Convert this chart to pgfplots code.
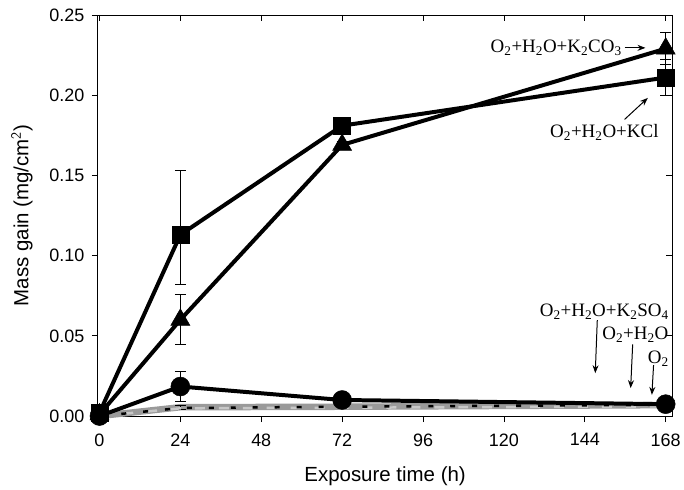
\documentclass[border=0pt]{standalone}
\usepackage{fontspec}
\setmainfont{Liberation Sans}
\newfontfamily\timesfont{Liberation Serif}
\usepackage{pgfplots}
\pgfplotsset{compat=1.18}
\usetikzlibrary{arrows.meta}

\definecolor{grayA}{HTML}{9A9A9A}
\definecolor{grayB}{HTML}{C8C8C8}

\newcommand{\lbl}[1]{{\timesfont\fontsize{19bp}{21bp}\selectfont #1}}

\begin{document}
\begin{tikzpicture}
\pgfplotsset{
  base/.style={
    width=576bp, height=402bp, scale only axis,
    at={(0,0)}, anchor=south west,
    xmin=-0.5, xmax=170, ymin=0, ymax=0.25,
    xtick={0,24,48,72,96,120,144,168},
    ytick={0,0.05,0.10,0.15,0.20,0.25},
    major tick length=6bp,
    every tick/.style={black, line width=0.8bp},
    axis line style={line width=0.8bp},
    clip=false,
  }
}
% inward ticks on top and right
\begin{axis}[base,
  xtick pos=right, ytick pos=right, tick align=inside,
  xticklabels={}, yticklabels={}]
\end{axis}

\begin{axis}[base,
  xtick pos=left, ytick pos=left, tick align=outside,
  /pgf/number format/assume math mode=true,
  yticklabel style={/pgf/number format/fixed, /pgf/number format/fixed zerofill,
    /pgf/number format/precision=2},
  scaled y ticks=false,
  tick label style={font=\fontsize{18bp}{20bp}\selectfont},
  xticklabel style={yshift=-8bp},
  yticklabel style={xshift=-4bp},
  label style={font=\fontsize{20.5bp}{23bp}\selectfont},
  xlabel={Exposure time (h)},
  ylabel={Mass gain (mg/cm$^{\mathsf{2}}$)},
  xlabel style={at={(axis description cs:0.5,-0.149)}, anchor=center},
  ylabel style={at={(axis description cs:-0.132,0.5)}, anchor=center},
  error bars/y dir=both,
  error bars/y explicit,
  error bars/error bar style={black, line width=0.9bp},
  error bars/error mark options={rotate=90, mark size=5.5bp, line width=0.9bp, black},
]
% low gray series
\addplot[grayA, line width=6.5bp, mark=none] coordinates {
  (0,0.000) (24,0.0055) +- (0,0.0012) (72,0.0058) (168,0.0068)
};
\addplot[grayB, line width=2.5bp, dash pattern=on 10bp off 14bp, mark=none] coordinates {
  (0,0.000) (24,0.0048) (72,0.0052) (168,0.0060)
};
\addplot[black, line width=2.5bp, dash pattern=on 5bp off 17bp, mark=none] coordinates {
  (0,0.000) (24,0.0050) (72,0.0058) (168,0.0070)
};
% circles
\addplot[black, line width=4bp, mark=*, mark size=9.5bp, mark options={solid, fill=black, line width=0.5bp}] coordinates {
  (0,0.000) (24,0.0184) +- (0,0.0095) (72,0.0100) +- (0,0.002) (168,0.0074) +- (0,0.002)
};
% triangles
\addplot[black, line width=4bp, mark=triangle*, mark size=11bp, mark options={solid, fill=black, line width=0.5bp}] coordinates {
  (0,0.001) (24,0.0600) +- (0,0.0155) (72,0.1690) +- (0,0.002) (168,0.2290) +- (0,0.010)
};
% squares
\addplot[black, line width=4bp, mark=square*, mark size=8.5bp, mark options={solid, fill=black, line width=0.5bp}] coordinates {
  (0,0.002) (24,0.1130) += (0,0.040) -= (0,0.031) (72,0.1810) +- (0,0.002) (168,0.2110) +- (0,0.011)
};

% annotations
\node[anchor=east, inner sep=0pt] at (axis cs:155,0.2295) {\lbl{O\textsubscript{2}+H\textsubscript{2}O+K\textsubscript{2}CO\textsubscript{3}}};
\draw[-{Stealth[length=8bp,width=6bp]}, line width=1bp] (axis cs:155.8,0.2295) -- (axis cs:162,0.2295);

\node[inner sep=0pt] at (axis cs:149.8,0.1768) {\lbl{O\textsubscript{2}+H\textsubscript{2}O+KCl}};
\draw[-{Stealth[length=8bp,width=6bp]}, line width=1bp] (axis cs:155.8,0.1849) -- (axis cs:162.7,0.1983);

\node[inner sep=0pt] at (axis cs:149.8,0.0651) {\lbl{O\textsubscript{2}+H\textsubscript{2}O+K\textsubscript{2}SO\textsubscript{4}}};
\draw[-{Stealth[length=8bp,width=6bp]}, line width=1bp] (axis cs:147.7,0.0598) -- (axis cs:147.1,0.0267);

\node[inner sep=0pt] at (axis cs:159,0.0505) {\lbl{O\textsubscript{2}+H\textsubscript{2}O}};
\draw[-{Stealth[length=8bp,width=6bp]}, line width=1bp] (axis cs:158.2,0.0447) -- (axis cs:157.6,0.0174);

\node[inner sep=0pt] at (axis cs:165.8,0.0360) {\lbl{O\textsubscript{2}}};
\draw[-{Stealth[length=8bp,width=6bp]}, line width=1bp] (axis cs:164.4,0.0318) -- (axis cs:163.9,0.0132);
\end{axis}
\path[use as bounding box] (-98bp,-74bp) rectangle (586bp,417bp);
\end{tikzpicture}
\end{document}
